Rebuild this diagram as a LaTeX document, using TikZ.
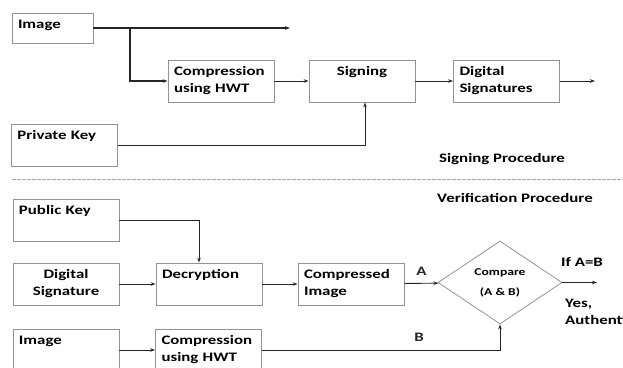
\documentclass[tikz,border=0pt]{standalone}
\usepackage{fontspec}
\setmainfont[FakeStretch=1.3]{Carlito}
\usetikzlibrary{shapes.geometric,arrows.meta}

\begin{document}
\begin{tikzpicture}[x=1bp,y=-1bp,>={Stealth[length=5bp,width=3.5bp]}]
    \tikzstyle{every node}=[font=\fontsize{13}{17}\selectfont\bfseries]
    \tikzstyle{blk}=[draw=gray!85,rectangle,line width=0.8bp,minimum width=106bp,minimum height=42bp,inner xsep=6bp,inner ysep=4bp,text width=94bp,align=left]
    \tikzstyle{toptxt}=[text height=11bp,text depth=23bp]
    \tikzstyle{conn}=[line width=0.9bp,black!85]
    \useasboundingbox (0,0) rectangle (623,367);
    \clip (0,0) rectangle (623,367);
    %%% HELP LINES - uncomment to design/extend
    %\draw[step=50,gray,very thin] (0,0) grid (623,367);
    %% Signing procedure
    \node at (52.5,28) [blk,minimum width=81bp,minimum height=30bp,text width=69bp,text height=11bp,text depth=11bp] (img) {Image};
    \node at (221,81) [blk] (comp) {Compression\\using HWT};
    \node at (362,81) [blk,toptxt,align=center] (sign) {Signing};
    \node at (506.5,81) [blk] (dsig) {Digital\\Signatures};
    \node at (64.5,145) [blk,toptxt] (pkey) {Private Key};
    \node at (502,159) (sigproc) {Signing Procedure};
    \coordinate (br) at (130,28);
    \coordinate (imgout) at (290,28);
    \coordinate (sigout) at (595,81);
    \draw[conn,line width=1.2bp,->] (img.east) -- (imgout);
    \draw[conn,line width=1.2bp,->] (br) |- (comp.west);
    \draw[conn,->] (pkey.east) -| ([xshift=3bp]sign.south);
    \path[conn]
    (comp) edge [->] (sign)
    (sign) edge [->] (dsig)
    (dsig.east) edge [->] (sigout);
    %% Separator
    \draw[gray!70,line width=0.6bp,dash pattern=on 4bp off 1bp] (12,179) -- (623,179);
    %% Verification procedure
    \node at (515,198) (verproc) {Verification Procedure};
    \node at (66,220.5) [blk,toptxt] (pub) {Public Key};
    \node at (66,284) [blk,align=center] (dsig2) {Digital\\Signature};
    \node at (209,284) [blk,toptxt] (decr) {Decryption};
    \node at (351,284) [blk] (cimg) {Compressed\\Image};
    \node at (500,282.5) [draw=gray!85,line width=0.8bp,diamond,inner sep=0pt,minimum width=124bp,minimum height=83bp,align=center,font=\fontsize{10.5}{12}\selectfont\bfseries] (cmp) {Compare\\[8bp](A \& B)};
    \node at (66,350) [blk,toptxt] (img2) {Image};
    \node at (208.5,350) [blk] (comp2) {Compression\\using HWT};
    \node at (582,262) (ifab) {If A=B};
    \node at (565,304) [anchor=west,inner sep=0pt] (yes) {Yes,};
    \node at (565,320) [anchor=west,inner sep=0pt] (auth) {Authentication};
    \coordinate (yesout) at (597,282.5);
    \draw[conn,->] (pub.east) -| ([xshift=-10bp]decr.north);
    \draw[conn,->] (comp2.east) -| node[pos=0.33,above=5bp] (lblb) {B} (cmp.south);
    \path[conn]
    (dsig2) edge [->] (decr)
    (decr) edge [->] (cimg)
    (cimg) edge [->] node[above=4bp] (lbla) {A} (cmp)
    (cmp.east) edge [->] (yesout)
    (img2) edge [->] (comp2);
\end{tikzpicture}
\end{document}
